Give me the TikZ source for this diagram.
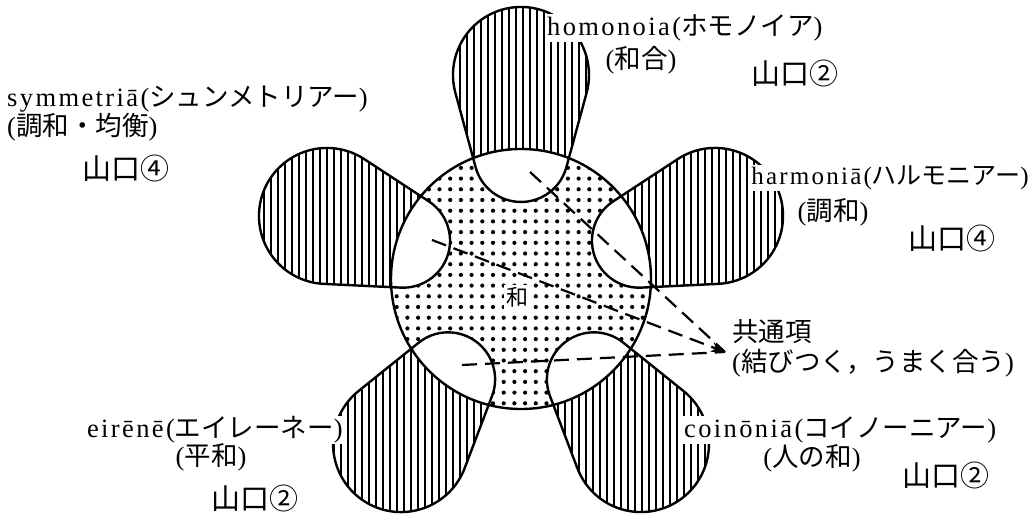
\documentclass[tikz,border=0pt]{standalone}
\usepackage{fontspec}
\usetikzlibrary{arrows.meta}
\newfontfamily\jp{Noto Sans CJK JP}
\newfontfamily\lat[LetterSpace=9]{Liberation Serif}
\newcommand\LA[1]{{\lat #1}}
\newcommand\JA[1]{{\jp #1}}
\def\mypetal{(45.35,111.68) arc[start angle=-15.22, end angle=-164.78, radius=47] -- (-65.62,186.17) arc[start angle=195.22, end angle=-15.22, radius=68] -- cycle}
\tikzset{
  outline/.style={line width=2.4pt, line join=round},
  hatchline/.style={line width=1.7pt},
  dashline/.style={line width=2.2pt, dash pattern=on 15pt off 8pt},
  lab/.style={fill=white, inner sep=1pt, font=\fontsize{26.5}{23}\selectfont},
  sig/.style={fill=white, inner sep=1pt, font=\jp\fontsize{29}{30}\selectfont}
}
\begin{document}
\begin{tikzpicture}[x=1pt,y=1pt]
\useasboundingbox[fill=white] (0,0) rectangle (1033,517);
\coordinate (C) at (521,238);
% dotted disc
\begin{scope}
  \clip (C) circle[radius=130];
  \foreach \i in {0,...,26}{\foreach \j in {0,...,26}{\fill (386+\i*10.7, 103+\j*10.7) circle[radius=2.1];}}
\end{scope}
% petals with vertical hatching
\foreach \a in {90,18,162,234,306}{
  \begin{scope}[shift={(C)}, rotate=\a-90]
    \fill[white] \mypetal;
  \end{scope}
  \begin{scope}[shift={(C)}, rotate=\a-90]
    \clip \mypetal;
    \begin{scope}[reset cm]
      \foreach \k in {0,...,92}{\draw[hatchline] (222+\k*7,0) -- (222+\k*7,517);}
    \end{scope}
  \end{scope}
}
% inner ends of the petals are white
\begin{scope}
  \clip (C) circle[radius=130];
  \foreach \a in {90,18,162,234,306}{\fill[white, shift={(C)}, rotate=\a-90] \mypetal;}
\end{scope}
% outlines
\draw[outline] (C) circle[radius=130];
\foreach \a in {90,18,162,234,306}{\draw[outline, shift={(C)}, rotate=\a-90] \mypetal;}
% dashed connectors
\coordinate (s1) at (530,345);
\coordinate (s2) at (432,277);
\coordinate (s3) at (462,152);
\coordinate (tip) at (725,165);
\draw[dashline] (s1) -- (tip);
\draw[dashline] (s3) -- (tip);
\draw[dashline, -{Stealth[length=14pt,width=10pt]}] (s2) -- (tip);
% labels
\node[lab, inner sep=2pt, font=\fontsize{22}{24}\selectfont] (wa) at (517,220) {\JA{和}};
\node[lab, anchor=west] (homo) at (546,489) {\LA{homonoia(}\JA{ホモノイア}\LA{)}};
\node[lab] (homoj) at (641,457) {\LA{(}\JA{和合}\LA{)}};
\node[sig] (y1) at (795,444) {山口②};
\node[lab, anchor=west, align=left] (sym) at (6,403) {\LA{symmetriā(}\JA{シュンメトリアー}\LA{)}\\\LA{(}\JA{調和・均衡}\LA{)}};
\node[sig] (y2) at (126,349) {山口④};
\node[lab, anchor=east, font=\fontsize{25}{23}\selectfont] (harm) at (1030,339) {\LA{harmoniā(}\JA{ハルモニアー}\LA{)}};
\node[lab] (harmj) at (833,305) {\LA{(}\JA{調和}\LA{)}};
\node[sig] (y3) at (952,279) {山口④};
\node[lab, anchor=west, align=left, font=\fontsize{26.5}{30}\selectfont] (kyo) at (731,169) {\JA{共通項}\\\LA{(}\JA{結びつく，うまく合う}\LA{)}};
\node[lab, anchor=west] (coin) at (683,87) {\LA{coinōniā(}\JA{コイノーニアー}\LA{)}};
\node[lab] (coinj) at (812,59) {\LA{(}\JA{人の和}\LA{)}};
\node[sig] (y4) at (946,42) {山口②};
\node[lab, anchor=east] (eir) at (344,87) {\LA{eirēnē(}\JA{エイレーネー}\LA{)}};
\node[lab] (eirj) at (211,60) {\LA{(}\JA{平和}\LA{)}};
\node[sig] (y5) at (255,19) {山口②};
\end{tikzpicture}
\end{document}
